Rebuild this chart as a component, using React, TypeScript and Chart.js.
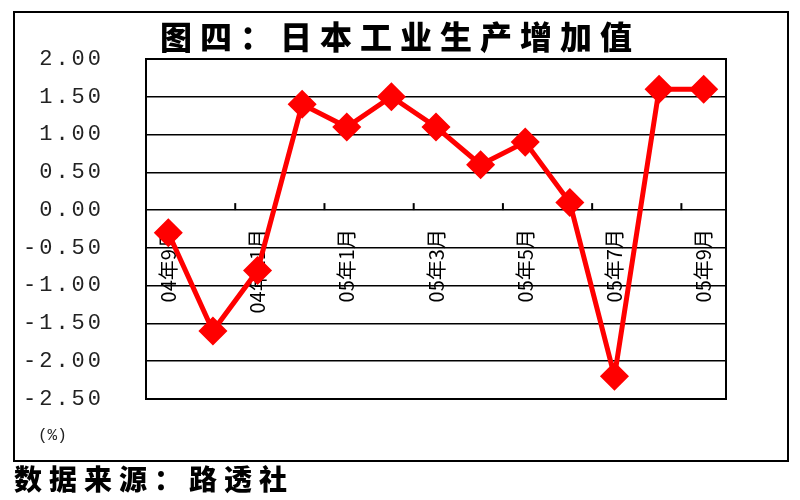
import React, { useEffect, useRef } from "react";
import { Chart, registerables } from "chart.js";

Chart.register(...registerables);

const months = [
  "04年9月", "04年10月", "04年11月", "04年12月", "05年1月", "05年2月", "05年3月",
  "05年4月", "05年5月", "05年6月", "05年7月", "05年8月", "05年9月",
];
const values = [-0.3, -1.6, -0.8, 1.4, 1.1, 1.5, 1.1, 0.6, 0.9, 0.1, -2.2, 1.6, 1.6];
const yMin = -2.5;
const yMax = 2.0;
const yStep = 0.5;

const title = "图四：日本工业生产增加值";
const unitLabel = "(%)";
const sourceLabel = "数据来源：路透社";

const framePlugin = {
  id: "frame",
  afterDraw(chart: any) {
    const { ctx, chartArea, scales } = chart;
    const x = scales.x;
    const y = scales.y;
    ctx.save();
    ctx.strokeStyle = "#000";
    ctx.lineWidth = 2;
    ctx.strokeRect(chartArea.left, chartArea.top, chartArea.right - chartArea.left, chartArea.bottom - chartArea.top);
    const zy = y.getPixelForValue(0);
    ctx.lineWidth = 2;
    for (let i = 1; i < months.length - 1; i += 2) {
      const px = (x.getPixelForValue(i) + x.getPixelForValue(i + 1)) / 2;
      ctx.beginPath();
      ctx.moveTo(px, zy - 7);
      ctx.lineTo(px, zy);
      ctx.stroke();
    }
    ctx.fillStyle = "#222";
    ctx.font = "22px 'Liberation Mono', 'DejaVu Sans Mono', monospace";
    (ctx as any).letterSpacing = "3px";
    ctx.textAlign = "right";
    ctx.textBaseline = "middle";
    y.ticks.forEach((t: any) => {
      ctx.fillText(t.value.toFixed(2), chartArea.left - 42, y.getPixelForValue(t.value));
    });
    ctx.restore();
  },
};

export default function App() {
  const ref = useRef<HTMLCanvasElement | null>(null);

  useEffect(() => {
    if (!ref.current) return;
    const chart = new Chart(ref.current, {
      type: "line",
      data: {
        labels: months,
        datasets: [
          {
            data: values,
            borderColor: "#ff0000",
            backgroundColor: "#ff0000",
            borderWidth: 5,
            pointStyle: "rectRot",
            pointRadius: 11,
            pointBackgroundColor: "#ff0000",
            pointBorderColor: "#ff0000",
            tension: 0,
          },
        ],
      },
      options: {
        animation: false,
        responsive: false,
        layout: { padding: { left: 140, right: 74, top: 59, bottom: 101 } },
        plugins: { legend: { display: false }, tooltip: { enabled: false }, title: { display: false } },
        scales: {
          x: {
            type: "category",
            position: { y: 0 } as any,
            offset: true,
            afterFit: (s: any) => { s.height = 0; },
            grid: { display: false, drawTicks: false },
            border: { display: false },
            ticks: {
              autoSkip: false,
              minRotation: 90,
              maxRotation: 90,
              padding: 19,
              color: "#000",
              font: { size: 20, family: "'Noto Sans CJK SC', sans-serif" },
              callback: (_v: any, i: number) => (i % 2 === 0 ? months[i] : ""),
            },
          },
          y: {
            min: yMin,
            max: yMax,
            afterFit: (s: any) => { s.width = 6; },
            grid: { color: "#000", lineWidth: 1.5, drawTicks: false },
            border: { display: true, color: "#000", width: 2 },
            ticks: { display: false, stepSize: yStep },
          },
        },
      },
      plugins: [framePlugin],
    });
    return () => chart.destroy();
  }, []);

  return (
    <div style={{ position: "absolute", left: 0, top: 0, width: 800, height: 500, background: "#fff", overflow: "hidden" }}>
      <div style={{ position: "absolute", left: 13, top: 11, width: 772, height: 447, border: "2px solid #000", boxSizing: "content-box" }} />
      <canvas ref={ref} width={800} height={500} style={{ position: "absolute", left: 0, top: 0 }} />
      <div style={{ position: "absolute", left: 0, top: 15, width: 800, textAlign: "center", fontFamily: "'Noto Sans CJK SC', sans-serif", fontWeight: 900, fontSize: 32, letterSpacing: 8, color: "#000", lineHeight: "40px" }}>
        {title}
      </div>
      <div style={{ position: "absolute", left: 38, top: 427, font: "16px 'Liberation Mono', monospace", color: "#222" }}>{unitLabel}</div>
      <div style={{ position: "absolute", left: 14, top: 458, fontFamily: "'Noto Sans CJK SC', sans-serif", fontWeight: 900, fontSize: 28, letterSpacing: 7, color: "#000", lineHeight: "40px" }}>
        {sourceLabel}
      </div>
    </div>
  );
}
